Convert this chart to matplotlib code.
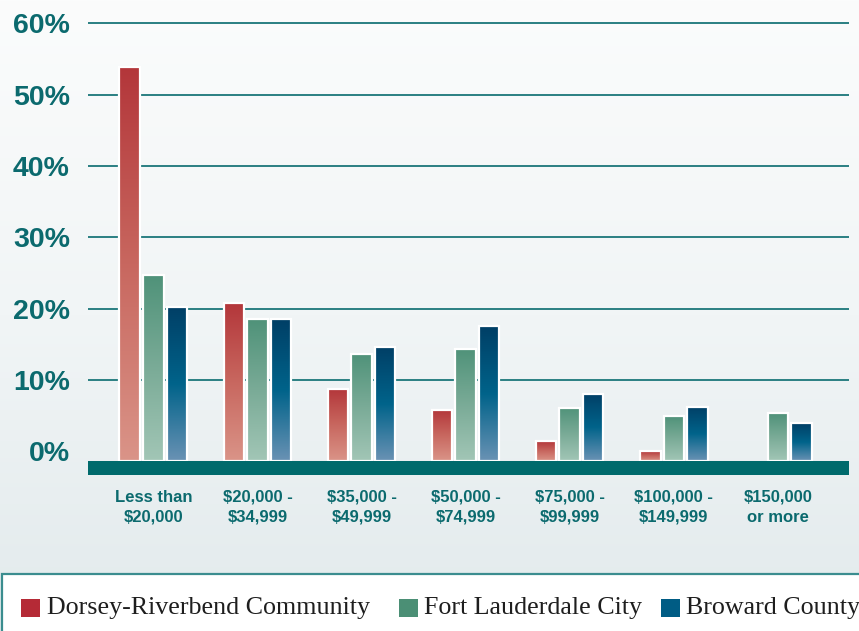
import numpy as np
import matplotlib
matplotlib.use("Agg")
import matplotlib.pyplot as plt
from matplotlib.colors import LinearSegmentedColormap
from matplotlib.patches import Rectangle

# ---------------- data ----------------
categories = ["Less than\n\\$20,000", "\\$20,000 -\n\\$34,999", "\\$35,000 -\n\\$49,999",
              "\\$50,000 -\n\\$74,999", "\\$75,000 -\n\\$99,999", "\\$100,000 -\n\\$149,999",
              "\\$150,000\nor more"]
series_names = ["Dorsey-Riverbend Community", "Fort Lauderdale City", "Broward County"]
dorsey = [55.3, 22.2, 10.1, 7.2, 2.8, 1.4, 0.0]
fort_lauderdale = [26.1, 19.9, 15.1, 15.8, 7.5, 6.3, 6.7]
broward = [21.7, 19.9, 16.0, 18.9, 9.4, 7.6, 5.3]
yticks = [0, 10, 20, 30, 40, 50, 60]
ytick_labels = [f"{t}%" for t in yticks]

# ---------------- style ----------------
W, H = 859, 631
TEAL = "#0b6a6e"
GRID = "#2a7f82"
BAND = "#006a6c"
BAR_BASE = -1.4          # visual base of bars (top of the teal band)
BAND_BOTTOM = -3.35
grads = [
    ["#b3363a", "#c8675f", "#da9488"],
    ["#4f9279", "#7aab97", "#a2c6b6"],
    ["#003f66", "#00638a", "#6a92b4"],
]
legend_colors = ["#b52a36", "#4b8f75", "#005c84"]

fig = plt.figure(figsize=(W / 100, H / 100), dpi=100)

# background gradient
bg = fig.add_axes([0, 0, 1, 1], zorder=-10)
bg_cmap = LinearSegmentedColormap.from_list("bg", ["#fbfcfc", "#f1f5f6", "#e2eaec"])
grad = np.linspace(0, 1, 256).reshape(-1, 1)
bg.imshow(grad, aspect="auto", cmap=bg_cmap, extent=[0, 1, 1, 0])
bg.axis("off")

ax = fig.add_axes([88 / W, (H - 475.2) / H, (849 - 88) / W, (475.2 - 21.9) / H])
ax.set_facecolor("none")
ax.set_xlim(-0.627, 6.683)
ax.set_ylim(BAND_BOTTOM, 60.2)

x = np.arange(len(categories))
bw = 0.197
step = 0.226
all_series = [dorsey, fort_lauderdale, broward]

for t in yticks:
    if t > 0:
        ax.axhline(t, color=GRID, lw=1.4, zorder=1)

for si, vals in enumerate(all_series):
    cmap = LinearSegmentedColormap.from_list(f"c{si}", grads[si][::-1])
    bars = ax.bar(x + (si - 1) * step, vals, width=bw, bottom=BAR_BASE,
                  facecolor="none", edgecolor="white", linewidth=1.6, zorder=3)
    for b, v in zip(bars, vals):
        if v <= 0:
            b.set_visible(False)
            continue
        x0, y0, w, h = b.get_x(), b.get_y(), b.get_width(), b.get_height()
        im = ax.imshow(np.linspace(0, 1, 256).reshape(-1, 1), cmap=cmap, aspect="auto",
                       extent=[x0, x0 + w, y0, y0 + h], origin="lower", zorder=2.5)
        im.set_clip_path(b)

ax.axhspan(BAND_BOTTOM, BAR_BASE, color=BAND, zorder=4, lw=0)

for s in ax.spines.values():
    s.set_visible(False)
ax.set_yticks(yticks)
ax.set_yticklabels(ytick_labels, fontsize=20.5, fontweight="bold", color=TEAL,
                   family="Liberation Sans")
ax.tick_params(axis="y", length=0, pad=13)
ax.set_xticks(x)
ax.set_xticklabels(categories, fontsize=12, fontweight="bold", color=TEAL,
                   family="Liberation Sans", linespacing=1.4)
ax.tick_params(axis="x", length=0, pad=10.5)

# legend box
fig.patches.append(Rectangle((2 / W, -0.02), 1.0, (H - 574.3) / H + 0.02,
                             transform=fig.transFigure, facecolor="white",
                             edgecolor="#3b8d8f", linewidth=1.6, zorder=1))
sq_x = [21, 399, 661]
tx_x = [47, 424.5, 686.5]
for name, col, sx, tx in zip(series_names, legend_colors, sq_x, tx_x):
    fig.patches.append(Rectangle((sx / W, (H - 616.7) / H), 18.5 / W, 18 / H,
                                 transform=fig.transFigure, facecolor=col,
                                 edgecolor="none", zorder=2))
    fig.text(tx / W, (H - 614) / H, name, fontsize=18.7, family="Liberation Serif",
             color="#1e1e1e", va="baseline", ha="left", zorder=3)

fig.savefig("out.png", dpi=100)
